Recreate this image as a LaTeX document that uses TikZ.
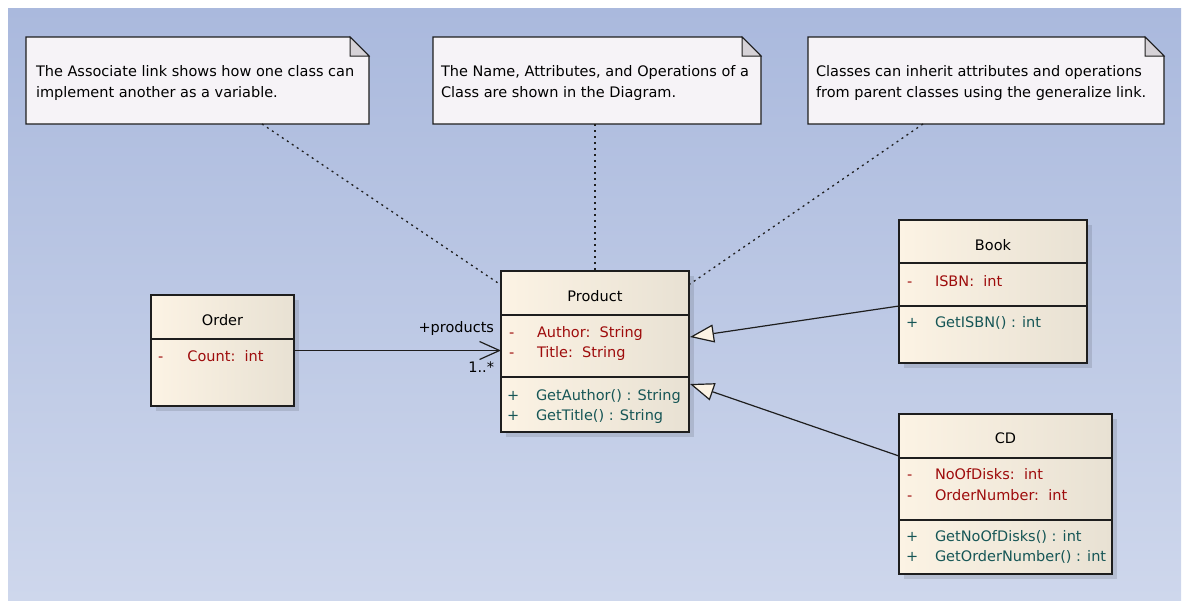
\documentclass[tikz,border=0pt]{standalone}
\usepackage{fontspec}
\setmainfont{DejaVu Sans}
\usetikzlibrary{arrows.meta,calc,shadows}
\definecolor{bgT}{RGB}{170,185,221}
\definecolor{bgB}{RGB}{206,215,236}
\definecolor{clsL}{RGB}{252,243,228}
\definecolor{clsR}{RGB}{232,225,211}
\definecolor{noteC}{RGB}{246,243,247}
\definecolor{foldC}{RGB}{214,210,215}
\definecolor{attrC}{RGB}{158,12,12}
\definecolor{opC}{RGB}{22,86,86}
\definecolor{edgeC}{RGB}{30,30,30}
\newcommand\notebody[1]{%
  \filldraw[notefill] (#1.south west) -- (#1.north west) -- ($(#1.north east)+(-19,0)$) -- ($(#1.north east)+(0,19)$) -- (#1.south east) -- cycle;
  \filldraw[fold] ($(#1.north east)+(-19,0)$) -- ($(#1.north east)+(-19,19)$) -- ($(#1.north east)+(0,19)$) -- cycle;}
\newcommand\hdiv[2]{\draw[divider] ($(#1.north west)+(0,#2)$) -- ($(#1.north east)+(0,#2)$);}
\tikzset{
 every node/.style={inner sep=0pt, outer sep=0pt},
 cls/.style={draw=edgeC, line width=1.3pt, left color=clsL, right color=clsR, anchor=north west,
   drop shadow={shadow xshift=5pt, shadow yshift=-5pt, fill=black, opacity=0.11}},
 divider/.style={draw=edgeC, line width=1.2pt},
 notebox/.style={anchor=north west},
 notefill/.style={draw=edgeC, line width=1.2pt, fill=noteC},
 fold/.style={draw=edgeC, line width=1pt, fill=foldC},
 txt/.style={anchor=base west, text=black},
 cname/.style={anchor=base, text=black},
 attr/.style={anchor=base west, text=attrC},
 op/.style={anchor=base west, text=opC},
 lbl/.style={anchor=base east, text=black},
 notelink/.style={draw=edgeC, line width=1.3pt, dash pattern=on 2pt off 4pt},
 assoc/.style={draw=edgeC, line width=1.2pt, -{Straight Barb[length=20pt,width=18pt,line width=1.2pt]}},
 gen/.style={draw=edgeC, line width=1.2pt, -{Triangle[length=24pt,width=18pt,fill=clsL,line width=1.2pt]}},
}
\begin{document}
\begin{tikzpicture}[x=1pt,y=-1pt,font=\fontsize{14.5}{21}\selectfont]
\useasboundingbox (0,0) rectangle (1186,600);
\fill[top color=bgT, bottom color=bgB] (8,8) rectangle (1181,600);

% notes
\node[notebox, minimum width=343pt, minimum height=87pt] (n1) at (26,37) {};
\node[notebox, minimum width=328pt, minimum height=87pt] (n2) at (433,37) {};
\node[notebox, minimum width=356pt, minimum height=87pt] (n3) at (808,37) {};
\notebody{n1}
\notebody{n2}
\notebody{n3}
\node[txt] (n1a) at (36,76) {The Associate link shows how one class can};
\node[txt] (n1b) at (36,97) {implement another as a variable.};
\node[txt] (n2a) at (441,76) {The Name, Attributes, and Operations of a};
\node[txt] (n2b) at (441,97) {Class are shown in the Diagram.};
\node[txt] (n3a) at (816,76) {Classes can inherit attributes and operations};
\node[txt] (n3b) at (816,97) {from parent classes using the generalize link.};

% classes
\node[cls, minimum width=188pt, minimum height=161pt] (product) at (501,271) {};
\hdiv{product}{44}
\hdiv{product}{106}
\node[cname] (productN) at (595,301) {Product};
\node[attr] (pa1) at (509,337) {\makebox[28pt][l]{-}Author:\ \ String};
\node[attr] (pa2) at (509,357.5) {\makebox[28pt][l]{-}Title:\ \ String};
\node[op] (po1) at (507,400) {\makebox[29pt][l]{+}GetAuthor() : String};
\node[op] (po2) at (507,420) {\makebox[29pt][l]{+}GetTitle() : String};

\node[cls, minimum width=143pt, minimum height=111pt] (order) at (151,295) {};
\hdiv{order}{44}
\node[cname] (orderN) at (222.5,325.5) {Order};
\node[attr] (oa1) at (158,361) {\makebox[29.5pt][l]{-}Count:\ \ int};

\node[cls, minimum width=188pt, minimum height=143pt] (book) at (899,220) {};
\hdiv{book}{43}
\hdiv{book}{86}
\node[cname] (bookN) at (993,250) {Book};
\node[attr] (ba1) at (907,286) {\makebox[28pt][l]{-}ISBN:\ \ int};
\node[op] (bo1) at (906,327) {\makebox[29pt][l]{+}GetISBN() : int};

\node[cls, minimum width=213pt, minimum height=160pt] (cd) at (899,414) {};
\hdiv{cd}{44}
\hdiv{cd}{106}
\node[cname] (cdN) at (1005.5,443.5) {CD};
\node[attr] (ca1) at (907,479.5) {\makebox[28pt][l]{-}NoOfDisks:\ \ int};
\node[attr] (ca2) at (907,500) {\makebox[28pt][l]{-}OrderNumber:\ \ int};
\node[op] (co1) at (906,541.5) {\makebox[29pt][l]{+}GetNoOfDisks() : int};
\node[op] (co2) at (906,561.5) {\makebox[29pt][l]{+}GetOrderNumber() : int};

% note links
\draw[notelink] ($(n1.south west)+(236,0)$) -- ($(product.north west)+(-3,12)$);
\draw[notelink] (n2.south -| productN) -- (product.north -| productN);
\draw[notelink] ($(n3.south west)+(115,0)$) -- ($(product.north east)+(1,13)$);

% association
\draw[assoc] (order.east) -- (order.east -| product.west);
\node[lbl] (rolel) at (494,332) {+products};
\node[lbl] (multl) at (494,372) {1..*};

% generalizations
\draw[gen] ($(book.north west)+(0,86)$) -- ($(product.north east)+(1,66)$);
\draw[gen] ($(cd.north west)+(0,42)$) -- ($(product.north east)+(1,113)$);
\end{tikzpicture}
\end{document}
